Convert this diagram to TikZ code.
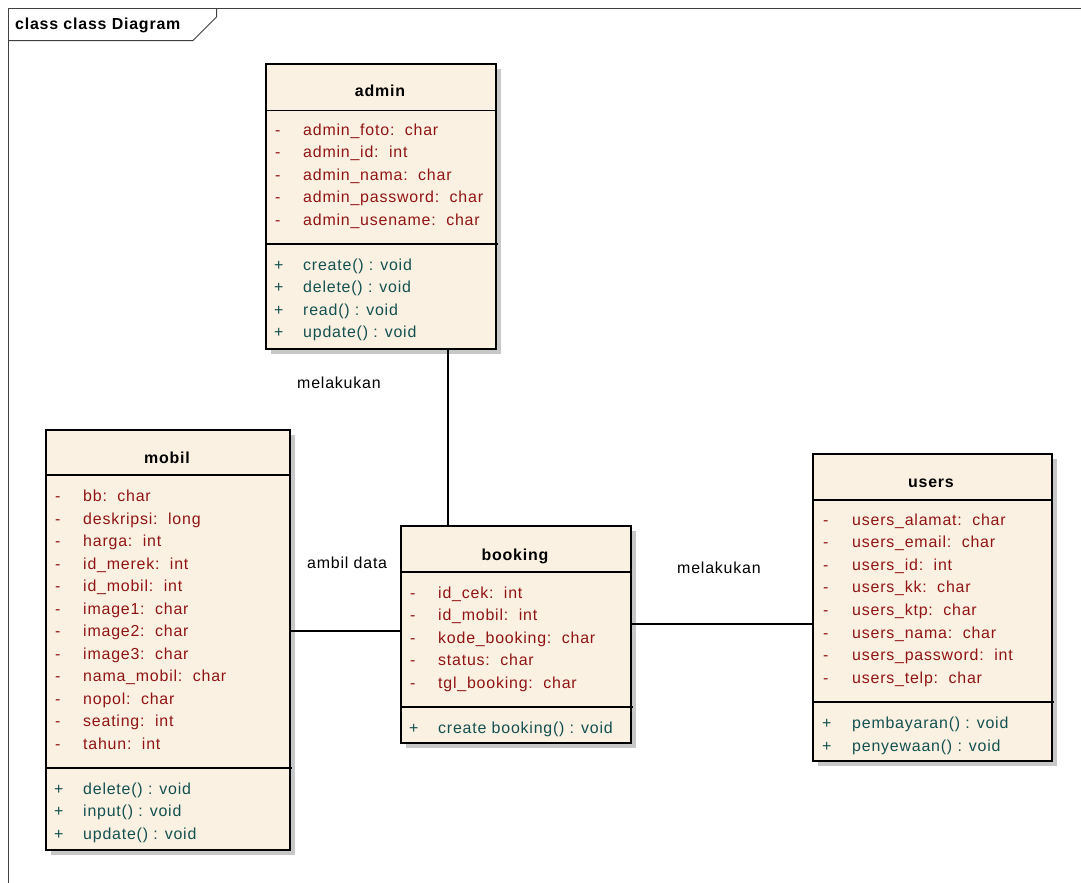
\documentclass[tikz,border=0pt]{standalone}
\usepackage{fontspec}
\setmainfont{Liberation Sans}[LetterSpace=5]
\usetikzlibrary{shadows}
\definecolor{classfill}{RGB}{251,241,226}
\definecolor{attrred}{RGB}{145,20,20}
\definecolor{methteal}{RGB}{20,80,80}
\newcommand{\umlsize}{\fontsize{16}{19}\selectfont}
\tikzset{
  classbox/.style={draw=black,line width=1.6bp,fill=classfill,anchor=north west,inner sep=0pt,
    drop shadow={shadow xshift=5bp,shadow yshift=-5bp,fill=black!22,opacity=1}},
  title/.style={font=\umlsize\bfseries,anchor=base,inner sep=0pt},
  attr/.style={text=attrred,anchor=base west,inner sep=0pt},
  meth/.style={text=methteal,anchor=base west,inner sep=0pt},
  sepline/.style={line width=1.4bp},
  assoc/.style={line width=1.5bp},
  frameline/.style={line width=1bp,black!75},
  lbl/.style={anchor=base west,inner sep=0pt}
}
\begin{document}
\begin{tikzpicture}[x=1bp,y=-1bp,font=\umlsize]
  \useasboundingbox (0,0) rectangle (1081,883);
  % frame
  \draw[frameline] (8,883) -- (8,8) -- (1081,8);
  \draw[frameline] (8,40.5) -- (193,40.5) -- (216.5,17) -- (216.5,8);
  \node[lbl,font=\umlsize\bfseries] (frame-t) at (15,29.5) {class class Diagram};

  % admin
  \node[classbox,minimum width=230bp,minimum height=285bp] (admin) at (265,63) {};
  \draw[sepline] (265,110.5) -- (495,110.5);
  \draw[sepline] (265,244) -- (498,244);
  \node[title] (admin-t) at (380,96) {admin};
  \foreach \t [count=\i from 0] in {admin\_foto:~~char,admin\_id:~~int,admin\_nama:~~char,
      admin\_password:~~char,admin\_usename:~~char}{
    \node[attr] (admin-v\i) at (275,{135+22.5*\i}) {-};
    \node[attr] (admin-a\i) at (303,{135+22.5*\i}) {\t};
  }
  \foreach \t [count=\i from 0] in {create() : void,delete() : void,read() : void,update() : void}{
    \node[meth] (admin-p\i) at (274,{270+22.6*\i}) {+};
    \node[meth] (admin-m\i) at (303,{270+22.6*\i}) {\t};
  }

  % mobil
  \node[classbox,minimum width=244bp,minimum height=420bp] (mobil) at (45,429) {};
  \draw[sepline] (45,475) -- (289,475);
  \draw[sepline] (45,768) -- (292,768);
  \node[title] (mobil-t) at (167,463) {mobil};
  \foreach \t [count=\i from 0] in {bb:~~char,deskripsi:~~long,harga:~~int,id\_merek:~~int,
      id\_mobil:~~int,image1:~~char,image2:~~char,image3:~~char,nama\_mobil:~~char,
      nopol:~~char,seating:~~int,tahun:~~int}{
    \node[attr] (mobil-v\i) at (55,{501.5+22.5*\i}) {-};
    \node[attr] (mobil-a\i) at (83,{501.5+22.5*\i}) {\t};
  }
  \foreach \t [count=\i from 0] in {delete() : void,input() : void,update() : void}{
    \node[meth] (mobil-p\i) at (54,{794+22.5*\i}) {+};
    \node[meth] (mobil-m\i) at (83,{794+22.5*\i}) {\t};
  }

  % booking
  \node[classbox,minimum width=230bp,minimum height=217bp] (booking) at (400,525) {};
  \draw[sepline] (400,572) -- (630,572);
  \draw[sepline] (400,707) -- (633,707);
  \node[title] (booking-t) at (515,560) {booking};
  \foreach \t [count=\i from 0] in {id\_cek:~~int,id\_mobil:~~int,kode\_booking:~~char,
      status:~~char,tgl\_booking:~~char}{
    \node[attr] (booking-v\i) at (410,{598+22.5*\i}) {-};
    \node[attr] (booking-a\i) at (438,{598+22.5*\i}) {\t};
  }
  \node[meth] (booking-p0) at (409,733) {+};
  \node[meth] (booking-m0) at (438,733) {create booking() : void};

  % users
  \node[classbox,minimum width=239bp,minimum height=307bp] (users) at (812,453) {};
  \draw[sepline] (812,500) -- (1051,500);
  \draw[sepline] (812,702) -- (1054,702);
  \node[title] (users-t) at (931,487) {users};
  \foreach \t [count=\i from 0] in {users\_alamat:~~char,users\_email:~~char,users\_id:~~int,
      users\_kk:~~char,users\_ktp:~~char,users\_nama:~~char,users\_password:~~int,
      users\_telp:~~char}{
    \node[attr] (users-v\i) at (823,{525+22.6*\i}) {-};
    \node[attr] (users-a\i) at (852,{525+22.6*\i}) {\t};
  }
  \foreach \t [count=\i from 0] in {pembayaran() : void,penyewaan() : void}{
    \node[meth] (users-p\i) at (822,{728+23*\i}) {+};
    \node[meth] (users-m\i) at (852,{728+23*\i}) {\t};
  }

  % associations
  \draw[assoc] (admin.south -| 448,0) -- (booking.north -| 448,0);
  \draw[assoc] (mobil.east |- 0,631) -- (booking.west |- 0,631);
  \draw[assoc] (booking.east |- 0,624) -- (users.west |- 0,624);
  \node[lbl] (lbl-admin) at (297,388) {melakukan};
  \node[lbl] (lbl-mobil) at (307,568) {ambil data};
  \node[lbl] (lbl-users) at (677,573) {melakukan};
\end{tikzpicture}
\end{document}
